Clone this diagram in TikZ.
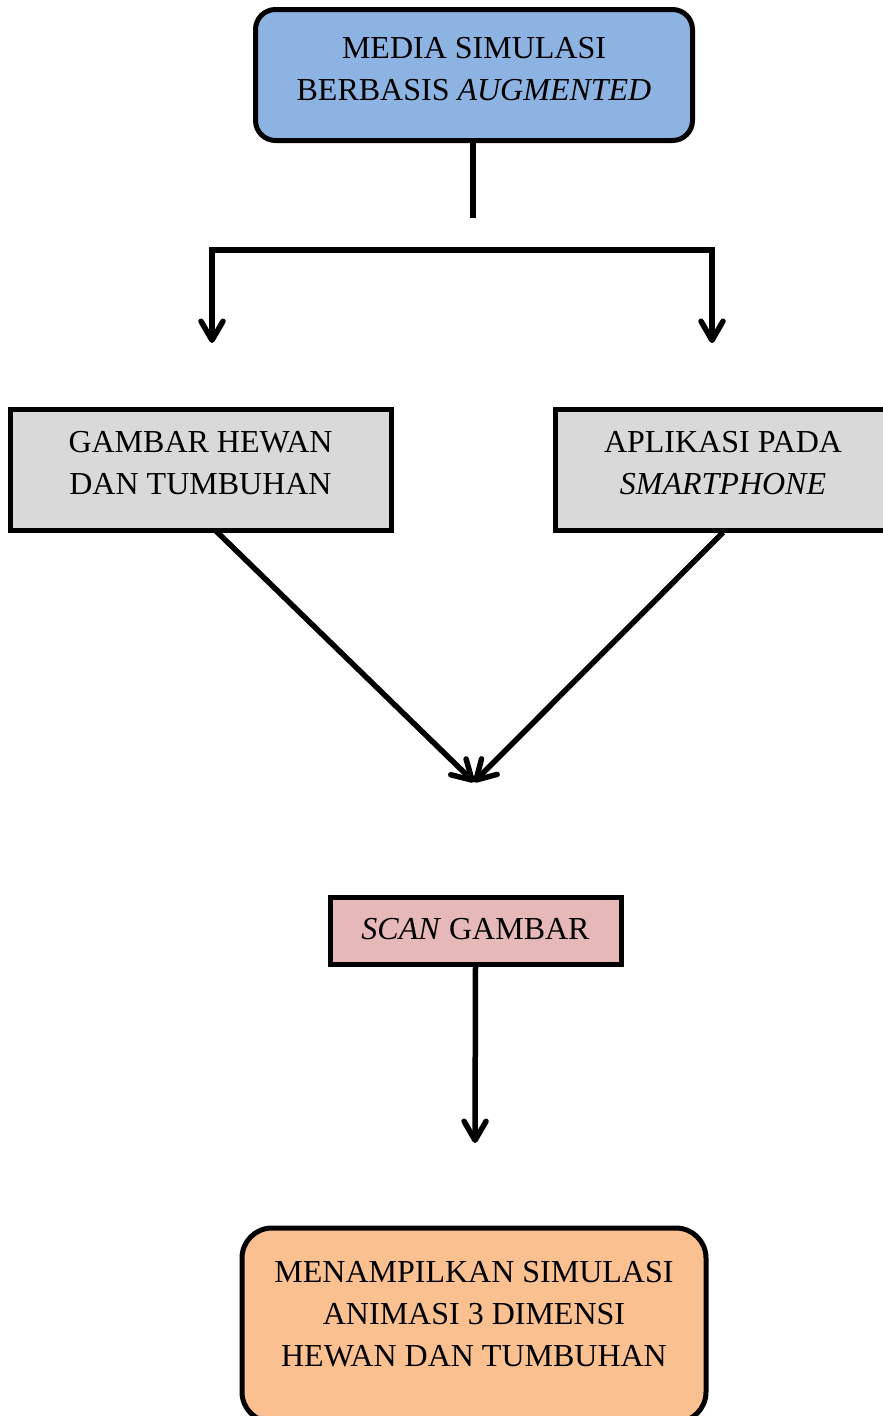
\documentclass[tikz,border=0pt]{standalone}
\usepackage{fontspec}
\setmainfont{Liberation Serif}
\usetikzlibrary{arrows.meta}
\definecolor{topblue}{RGB}{141,179,226}
\definecolor{boxgray}{RGB}{217,217,217}
\definecolor{scanpink}{RGB}{230,184,183}
\definecolor{endorange}{RGB}{250,192,144}
\newcommand{\boxtext}[2]{\raisebox{#1}[\height][\depth]{\begin{tabular}{@{}c@{}}#2\end{tabular}}}
\tikzset{
  box/.style={draw=black, line width=5pt, inner sep=0pt, font=\fontsize{32}{42}\selectfont},
  roundbox/.style={box, rounded corners=20pt},
  conn/.style={line width=5.5pt},
  >={Straight Barb[length=19pt,width=22pt,line cap=round,line join=round]}
}
\begin{document}
\begin{tikzpicture}[x=1pt,y=1pt]
\clip (0,0) rectangle (883,-1416);
\fill[white] (0,0) rectangle (883,-1416);

\node[roundbox, fill=topblue, minimum width=437pt, minimum height=131pt] (top) at (474,-75)
  {\boxtext{4.4pt}{MEDIA SIMULASI\\BERBASIS \textit{AUGMENTED}}};
\node[box, fill=boxgray, minimum width=381pt, minimum height=121pt] (left) at (200.5,-469.5)
  {\boxtext{4.5pt}{GAMBAR HEWAN\\DAN TUMBUHAN}};
\node[box, fill=boxgray, minimum width=336pt, minimum height=121pt] (right) at (723,-469.5)
  {\boxtext{4.5pt}{APLIKASI PADA\\\textit{SMARTPHONE}}};
\node[box, fill=scanpink, minimum width=291pt, minimum height=67pt] (scan) at (475.5,-930.5)
  {\boxtext{-1pt}{\textit{SCAN} GAMBAR}};
\node[roundbox, rounded corners=30pt, fill=endorange, minimum width=464pt, minimum height=194pt] (end) at (474,-1325)
  {\boxtext{9pt}{MENAMPILKAN SIMULASI\\ANIMASI 3 DIMENSI\\HEWAN DAN TUMBUHAN}};

\coordinate (stem) at (473,-218);
\coordinate (hl) at (212,-250);
\coordinate (hr) at (712,-250);
\coordinate (al) at (212,-343);
\coordinate (ar) at (712,-343);
\coordinate (meet) at (474,-782);
\coordinate (lstart) at (215,-530);
\coordinate (scantip) at (475,-1143);

\draw[conn] (top.south -| stem) -- (stem);
\draw[conn, <->] (al) -- (hl) -- (hr) -- (ar);
\draw[conn, ->] (lstart) -- (meet);
\draw[conn, ->] (right.south) -- (meet);
\draw[conn, ->] (scan.south) -- (scantip);
\end{tikzpicture}
\end{document}
